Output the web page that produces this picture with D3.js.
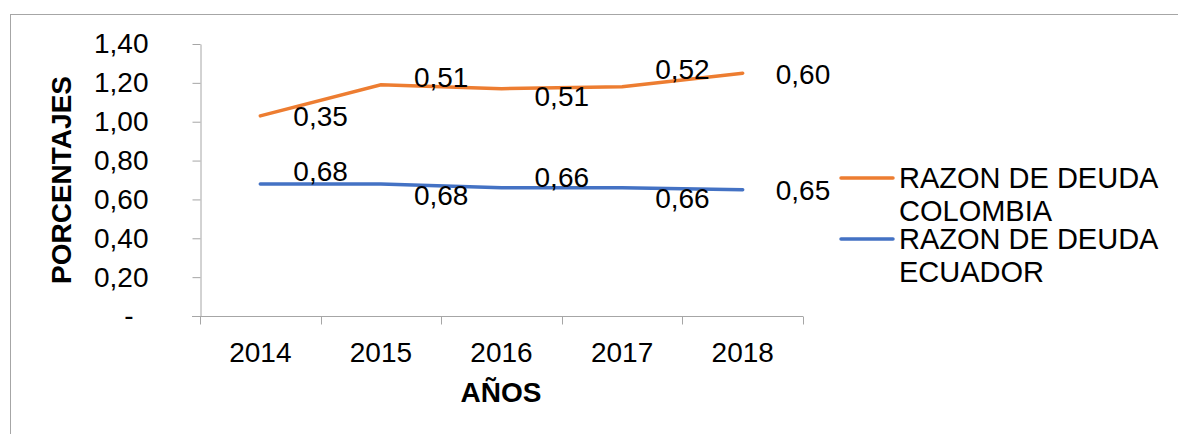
<!DOCTYPE html>
<html>
<head>
<meta charset="utf-8">
<script src="https://cdn.jsdelivr.net/npm/d3@7"></script>
<style>
    body { margin: 0; background: #fff; }
    svg { display: block; font-family: "Liberation Sans", Arial, sans-serif; }
    .axis path, .axis line { stroke: #a6a6a6; }
</style>
</head>
<body>
<div id="chart"></div>
<script>
'use strict';

const years = ['2014', '2015', '2016', '2017', '2018'];
const colombia = [0.35, 0.51, 0.51, 0.52, 0.60];
const ecuador = [0.68, 0.68, 0.66, 0.66, 0.65];
const yTicks = [0, 0.2, 0.4, 0.6, 0.8, 1.0, 1.2, 1.4];
const seriesNames = ['RAZON DE DEUDA COLOMBIA', 'RAZON DE DEUDA ECUADOR'];

// label nudges (px from the point), set by hand like in the original sheet
const colombiaLabelDy = [0, -8, 8, -18, 1];
const ecuadorLabelDy = [-13, 11, -11, 10, 0];

const width = 1178, height = 434;
const fontSize = 28;
const orange = '#ed7d31', blue = '#4472c4';

const locale = d3.formatLocale({decimal: ',', thousands: '.', grouping: [3], currency: ['', '']});
const fmt = locale.format('.2f');

let svg = d3.select('#chart').append('svg')
    .attr('width', width)
    .attr('height', height);

// outer chart frame (runs off the right/bottom edge)
svg.append('rect')
    .attr('x', 10.5).attr('y', 14.5)
    .attr('width', 1300).attr('height', 600)
    .attr('fill', 'none')
    .attr('stroke', '#a6a6a6');

let x = d3.scaleBand().domain(years).range([200, 803]).padding(0);
let y = d3.scaleLinear().domain([0, 1.4]).range([316, 44]);
let cx = d => x(d) + x.bandwidth() / 2;

// y axis
let yAxis = d3.axisLeft(y)
    .tickValues(yTicks)
    .tickSize(8)
    .tickSizeOuter(0)
    .tickPadding(44)
    .tickFormat(d => d === 0 ? '-' : fmt(d));

let yg = svg.append('g')
    .attr('class', 'axis')
    .attr('transform', 'translate(200.5,0)')
    .call(yAxis);
yg.selectAll('text')
    .attr('font-size', fontSize)
    .attr('font-family', '"Liberation Sans", Arial, sans-serif')
    .attr('fill', '#000');
yg.selectAll('.tick').filter(d => d === 0).select('text').attr('x', -67);

// x axis: labels from band scale, ticks on category boundaries
let xAxis = d3.axisBottom(x).tickSize(0).tickPadding(26);
let xg = svg.append('g')
    .attr('class', 'axis')
    .attr('transform', 'translate(0,316.5)')
    .call(xAxis);
xg.select('.domain').remove();
xg.selectAll('text')
    .attr('font-size', fontSize)
    .attr('font-family', '"Liberation Sans", Arial, sans-serif')
    .attr('fill', '#000');

xg.append('line')
    .attr('x1', 192).attr('x2', x.range()[1])
    .attr('stroke', '#a6a6a6');
xg.selectAll('.bound')
    .data([x(years[0])].concat(years.map(d => x(d) + x.bandwidth())))
    .enter()
    .append('line')
    .attr('class', 'bound')
    .attr('x1', d => Math.round(d) + 0.5)
    .attr('x2', d => Math.round(d) + 0.5)
    .attr('y1', 0).attr('y2', 8)
    .attr('stroke', '#a6a6a6');

// axis titles
svg.append('text')
    .attr('transform', 'translate(71,180) rotate(-90)')
    .attr('text-anchor', 'middle')
    .attr('font-size', fontSize)
    .attr('font-weight', 'bold')
    .text('PORCENTAJES');

svg.append('text')
    .attr('x', 501).attr('y', 402)
    .attr('text-anchor', 'middle')
    .attr('font-size', fontSize)
    .attr('font-weight', 'bold')
    .text('AÑOS');

// stacked lines: colombia sits on top of ecuador
let stackedCol = colombia.map((v, i) => v + ecuador[i]);

let line = d3.line()
    .x((d, i) => cx(years[i]))
    .y(d => y(d));

svg.append('path')
    .datum(ecuador)
    .attr('d', line)
    .attr('fill', 'none')
    .attr('stroke', blue)
    .attr('stroke-width', 3.5)
    .attr('stroke-linecap', 'round');

svg.append('path')
    .datum(stackedCol)
    .attr('d', line)
    .attr('fill', 'none')
    .attr('stroke', orange)
    .attr('stroke-width', 3.5)
    .attr('stroke-linecap', 'round');

// data labels, sitting on the right edge of each band
function addLabels (vals, pos, dys)
{
    svg.append('g').selectAll('text')
        .data(vals)
        .enter()
        .append('text')
        .attr('x', (d, i) => x(years[i]) + x.bandwidth())
        .attr('y', (d, i) => y(pos[i]) + dys[i])
        .attr('dy', '0.35em')
        .attr('text-anchor', 'middle')
        .attr('font-size', fontSize)
        .text(d => fmt(d));
}
addLabels(colombia, stackedCol, colombiaLabelDy);
addLabels(ecuador, ecuador, ecuadorLabelDy);

// legend
let legend = svg.append('g');
[orange, blue].forEach((c, i) => {
    let top = 178 + i * 61;
    legend.append('line')
        .attr('x1', 841).attr('x2', 893)
        .attr('y1', top).attr('y2', top)
        .attr('stroke', c)
        .attr('stroke-width', 3.5)
        .attr('stroke-linecap', 'round');
    let words = seriesNames[i].split(' ');
    let t = legend.append('text')
        .attr('x', 899)
        .attr('y', top + 10)
        .attr('font-size', 29);
    t.append('tspan').attr('x', 899).text(words.slice(0, 3).join(' '));
    t.append('tspan').attr('x', 899).attr('dy', 33).text(words.slice(3).join(' '));
});
</script>
</body>
</html>
